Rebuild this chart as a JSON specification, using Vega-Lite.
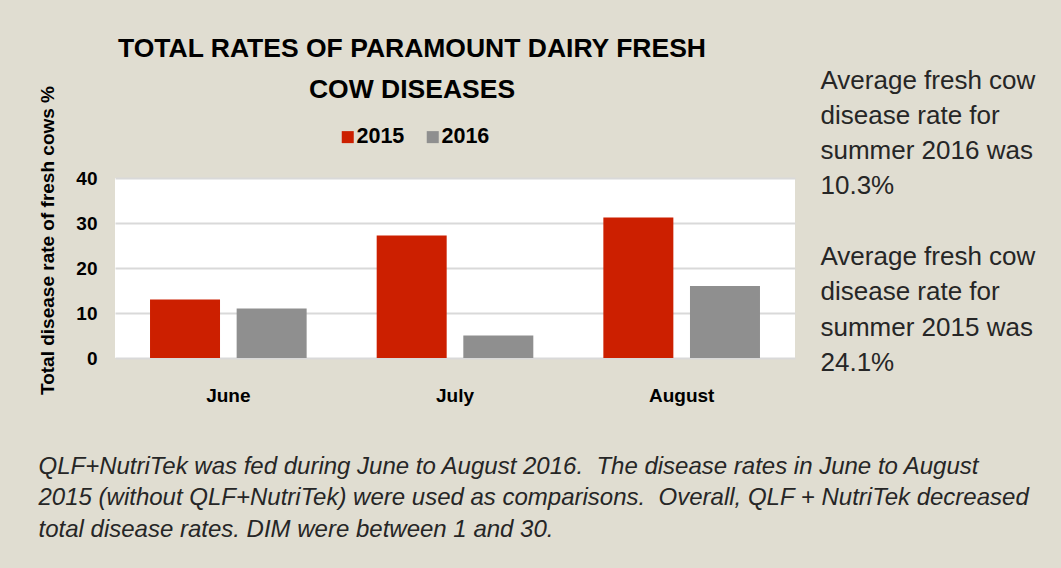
{
  "$schema": "https://vega.github.io/schema/vega-lite/v6.json",
  "width": 680,
  "height": 180,
  "autosize": {"type": "none"},
  "padding": {"left": 115, "top": 178, "right": 266, "bottom": 210},
  "background": "#e0ddd1",
  "config": {
    "view": {"fill": "#ffffff", "stroke": null},
    "font": "Liberation Sans"
  },
  "title": {
    "text": ["TOTAL RATES OF PARAMOUNT DAIRY FRESH", "COW DISEASES"],
    "font": "Liberation Sans",
    "fontSize": 26.5,
    "fontWeight": "bold",
    "color": "#000000",
    "lineHeight": 41,
    "anchor": "middle",
    "frame": "group",
    "dx": -43,
    "dy": 56,
    "offset": 20
  },
  "data": {
    "values": [
      {"month": "June", "year": "2015", "rate": 13},
      {"month": "June", "year": "2016", "rate": 11},
      {"month": "July", "year": "2015", "rate": 27.2},
      {"month": "July", "year": "2016", "rate": 5},
      {"month": "August", "year": "2015", "rate": 31.2},
      {"month": "August", "year": "2016", "rate": 16}
    ]
  },
  "layer": [
    {
      "mark": {"type": "bar"},
      "encoding": {
        "x": {
          "field": "month",
          "type": "nominal",
          "sort": ["June", "July", "August"],
          "scale": {"paddingInner": 0.309, "paddingOuter": 0.1545},
          "axis": {
            "labelAngle": 0,
            "labelFontSize": 19,
            "labelFontWeight": "bold",
            "labelColor": "#000000",
            "labelPadding": 28,
            "ticks": false,
            "domain": false,
            "title": [
              "QLF+NutriTek was fed during June to August 2016. \u00a0The disease rates in June to August",
              "2015 (without QLF+NutriTek) were used as comparisons. \u00a0Overall, QLF + NutriTek decreased",
              "total disease rates. DIM were between 1 and 30."
            ],
            "titleFontStyle": "italic",
            "titleFontWeight": "normal",
            "titleFontSize": 24,
            "titleColor": "#262626",
            "titleLineHeight": 31.7,
            "titleAlign": "left",
            "titleBaseline": "alphabetic",
            "titleAnchor": null,
            "titleX": -77,
            "titleY": 115
          }
        },
        "xOffset": {
          "field": "year",
          "type": "nominal",
          "scale": {"paddingInner": 0.192, "paddingOuter": 0}
        },
        "y": {
          "field": "rate",
          "type": "quantitative",
          "scale": {"domain": [0, 40], "nice": false},
          "axis": {
            "values": [0, 10, 20, 30, 40],
            "labelFontSize": 19,
            "labelFontWeight": "bold",
            "labelColor": "#000000",
            "labelPadding": 18,
            "ticks": false,
            "domain": false,
            "gridColor": "#d9d9d9",
            "gridWidth": 2,
            "title": "Total disease rate of fresh cows %",
            "titleFontSize": 19,
            "titleFontWeight": "bold",
            "titleColor": "#000000",
            "titleAngle": -90,
            "titleAlign": "center",
            "titleBaseline": "middle",
            "titleAnchor": null,
            "titleX": -68,
            "titleY": 62
          }
        },
        "color": {
          "field": "year",
          "type": "nominal",
          "scale": {"domain": ["2015", "2016"], "range": ["#cc1f00", "#8f8f8f"]},
          "legend": {
            "title": null,
            "orient": "none",
            "direction": "horizontal",
            "legendX": 222,
            "legendY": -52,
            "padding": 0,
            "symbolType": "square",
            "symbolSize": 144,
            "symbolStrokeWidth": 0,
            "symbolOpacity": 1,
            "labelFontSize": 21.5,
            "labelFontWeight": "bold",
            "labelColor": "#000000",
            "labelOffset": -2,
            "columnPadding": 17
          }
        }
      }
    },
    {
      "mark": {"type": "rule", "strokeOpacity": 0},
      "encoding": {
        "y": {
          "datum": 0,
          "type": "quantitative",
          "axis": {
            "orient": "right",
            "labels": false,
            "ticks": false,
            "domain": false,
            "grid": false,
            "title": [
              "Average fresh cow",
              "disease rate for",
              "summer 2016 was",
              "10.3%",
              "\u200b",
              "Average fresh cow",
              "disease rate for",
              "summer 2015 was",
              "24.1%"
            ],
            "titleAngle": 0,
            "titleAlign": "left",
            "titleBaseline": "alphabetic",
            "titleAnchor": null,
            "titleFontSize": 26,
            "titleFontWeight": "normal",
            "titleColor": "#262626",
            "titleLineHeight": 35.3,
            "titleX": 25,
            "titleY": -90
          }
        }
      }
    }
  ],
  "resolve": {"axis": {"y": "independent"}}
}
